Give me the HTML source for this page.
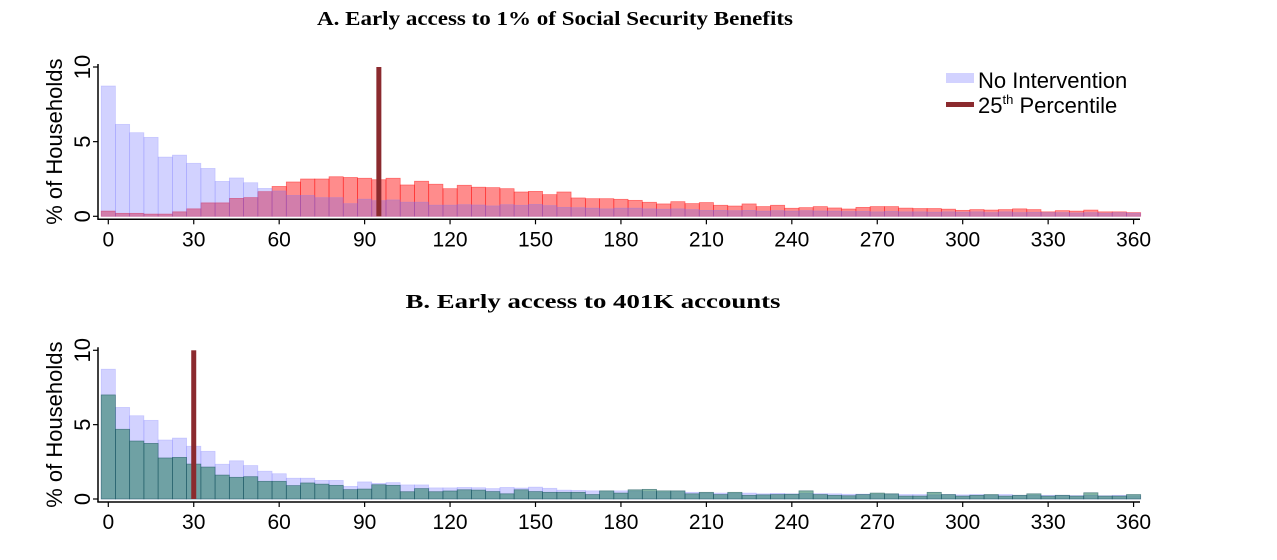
<!DOCTYPE html>
<html><head><meta charset="utf-8"><style>
html,body{margin:0;padding:0;background:#fff}
svg{display:block}
</style></head><body>
<svg id="s" width="1277" height="560" xmlns="http://www.w3.org/2000/svg">
<text x="555" y="25" text-anchor="middle" font-family="Liberation Serif, serif" font-weight="bold" font-size="20" textLength="476" lengthAdjust="spacingAndGlyphs">A. Early access to 1% of Social Security Benefits</text>
<text x="593" y="308" text-anchor="middle" font-family="Liberation Serif, serif" font-weight="bold" font-size="20" textLength="375" lengthAdjust="spacingAndGlyphs">B. Early access to 401K accounts</text>
<g id="A"></g><g id="B"></g>
<g font-family="Liberation Sans, sans-serif" font-size="22" fill="#000">
<rect x="946" y="73" width="28" height="10" fill="#d2d2ff"/>
<text x="978" y="88">No Intervention</text>
<rect x="946" y="102" width="28" height="5" fill="#8b2a2e"/>
<text x="978" y="113">25<tspan font-size="13" dy="-9">th</tspan><tspan dy="9"> Percentile</tspan></text>
</g>
</svg>
<script>
var NS="http://www.w3.org/2000/svg";
function el(p,t,a,txt){var e=document.createElementNS(NS,t);for(var k in a)e.setAttribute(k,a[k]);if(txt!=null)e.textContent=txt;p.appendChild(e);return e;}
var blue=[8.73,6.16,5.6,5.29,3.97,4.1,3.55,3.21,2.34,2.57,2.25,1.87,1.7,1.4,1.4,1.25,1.25,0.85,1.15,1.05,1.1,0.95,0.95,0.75,0.75,
0.78,0.76,0.7,0.78,0.74,0.8,0.72,0.6,0.58,0.55,0.5,0.55,0.55,0.5,0.48,0.5,0.45,0.4,0.4,0.38,0.4,0.35,0.38,0.35,0.38,0.36,0.35,0.32,0.33,0.3,0.33,0.3,0.3,0.28,0.3,0.28,0.3,0.25,0.3,0.25,0.27,0.25,0.25,0.23,0.25,0.22,0.25,0.22];
var red=[0.35,0.2,0.2,0.15,0.15,0.3,0.5,0.9,0.9,1.2,1.25,1.65,2.0,2.3,2.5,2.5,2.65,2.6,2.55,2.45,2.55,2.1,2.35,2.15,1.85,
2.08,1.95,1.92,1.85,1.63,1.67,1.45,1.63,1.23,1.18,1.18,1.14,1.07,0.94,0.83,0.98,0.85,0.92,0.74,0.69,0.83,0.65,0.74,0.54,0.58,0.65,0.56,0.49,0.6,
0.65,0.65,0.55,0.52,0.52,0.48,0.4,0.45,0.42,0.45,0.5,0.45,0.3,0.38,0.35,0.42,0.3,0.3,0.25];
var green=[7.0,4.69,3.9,3.74,2.76,2.8,2.35,2.15,1.61,1.46,1.5,1.19,1.19,0.9,1.08,1.0,0.92,0.63,0.67,0.96,0.92,0.49,0.7,0.49,0.54,
0.62,0.6,0.5,0.35,0.62,0.5,0.45,0.45,0.45,0.3,0.55,0.4,0.62,0.65,0.55,0.55,0.35,0.45,0.3,0.45,0.25,0.28,0.3,0.32,0.55,0.3,0.25,0.22,0.3,
0.4,0.35,0.2,0.2,0.45,0.3,0.2,0.25,0.3,0.2,0.25,0.35,0.2,0.25,0.2,0.42,0.2,0.2,0.3];
var x0=108.3,sx=2.848;
function panel(g,base,top,data,pct){
  var sy=(base-top)/10;
  data.forEach(function(d){
    d.v.forEach(function(v,i){var u=i*5-2.5;el(g,"rect",{x:x0+u*sx,y:base-v*sy,width:5*sx,height:v*sy,fill:d.f,stroke:d.s,"stroke-width":0.7});});
  });
  el(g,"rect",{x:x0+pct*sx-2.5,y:top,width:5,height:base-top,fill:"#8b2a2e"});
  el(g,"line",{x1:98,y1:top-3,x2:98,y2:base+3,stroke:"#000","stroke-width":1.5});
  el(g,"line",{x1:97.3,y1:base+3,x2:1140,y2:base+3,stroke:"#000","stroke-width":1.5});
  [0,5,10].forEach(function(t){var y=base-t*sy;el(g,"line",{x1:93,y1:y,x2:98,y2:y,stroke:"#000","stroke-width":1.2});
    el(g,"text",{transform:"translate(90,"+y+") rotate(-90)","text-anchor":"middle","font-family":"Liberation Sans, sans-serif","font-size":22},String(t));});
  for(var t=0;t<=360;t+=30){var x=x0+t*sx;el(g,"line",{x1:x,y1:base+3,x2:x,y2:base+8,stroke:"#000","stroke-width":1.2});
    el(g,"text",{x:x,y:base+30,"text-anchor":"middle","font-family":"Liberation Sans, sans-serif","font-size":21},String(t));}
  el(g,"text",{transform:"translate(62,"+((base+top)/2)+") rotate(-90)","text-anchor":"middle","font-family":"Liberation Sans, sans-serif","font-size":22},"% of Households");
}
panel(document.getElementById("A"),216.3,67,[{v:red,f:"rgba(255,0,0,0.45)",s:"rgba(255,0,0,0.5)"},{v:blue,f:"rgba(90,90,255,0.27)",s:"rgba(120,120,255,0.3)"}],95);
panel(document.getElementById("B"),499,350.3,[{v:blue,f:"rgba(90,90,255,0.27)",s:"rgba(120,120,255,0.3)"},{v:green,f:"rgba(30,120,90,0.55)",s:"rgba(20,80,90,0.6)"}],30);
</script>
</body></html>
